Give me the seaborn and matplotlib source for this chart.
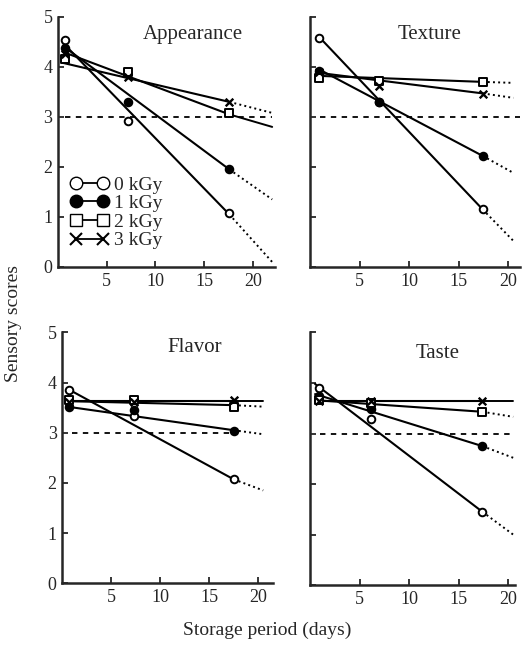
'''
Sensory scores vs storage period, four attributes, irradiation dose as series
'''
import pandas as pd
import seaborn as sns
import matplotlib.pyplot as plt
from matplotlib.lines import Line2D

sns.set_style("ticks")
plt.rcParams['font.family'] = ['Liberation Serif', 'DejaVu Serif']

# %% Data
panels = ["Appearance", "Texture", "Flavor", "Taste"]
doses = ["0 kGy", "1 kGy", "2 kGy", "3 kGy"]

# sampling days (points)
app_days = [0.7, 7.2, 17.6]
tex_days = [0.9, 6.9, 17.4]
fla_days = [0.7, 7.3, 17.5]
tas_days = [0.9, 6.1, 17.4]

# measured scores, one list per dose (0, 1, 2, 3 kGy)
app_scores = [[4.54, 2.92, 1.08], [4.38, 3.30, 1.95], [4.16, 3.90, 3.08], [4.25, 3.80, 3.30]]
tex_scores = [[4.58, 3.30, 1.15], [3.92, 3.30, 2.22], [3.78, 3.72, 3.70], [3.90, 3.62, 3.46]]
fla_scores = [[3.86, 3.33, 2.07], [3.52, 3.45, 3.03], [3.66, 3.66, 3.52], [3.62, 3.62, 3.66]]
tas_scores = [[3.91, 3.28, 1.44], [3.74, 3.48, 2.75], [3.66, 3.60, 3.43], [3.64, 3.64, 3.65]]

# regression lines: x at start, end of solid part, end of dotted part
app_fit_x = [0.5, 17.6, 22.0]
tex_fit_x = [0.9, 17.4, 20.5]
fla_fit_x = [0.5, 17.5, 20.5]
tas_fit_x = [0.5, 17.4, 20.5]
# regression line values at those x, one list per dose
app_fit = [[4.48, 1.05, 0.10], [4.42, 1.95, 1.35], [4.30, 3.05, 2.80], [4.08, 3.30, 3.08]]
tex_fit = [[4.60, 1.15, 0.52], [3.95, 2.22, 1.88], [3.82, 3.70, 3.68], [3.88, 3.47, 3.38]]
fla_fit = [[3.88, 2.07, 1.85], [3.52, 3.05, 2.97], [3.63, 3.55, 3.52], [3.63, 3.63, 3.63]]
tas_fit = [[3.98, 1.45, 1.00], [3.78, 2.75, 2.52], [3.66, 3.43, 3.33], [3.65, 3.65, 3.65]]

# acceptability limit (dashed) and its x range per panel
limit = 3.0
limit_x = [[0.7, 22.0], [1.0, 21.2], [1.0, 17.5], [1.0, 20.7]]
xmax = [22.3, 21.2, 21.5, 20.7]

# %% Long tables
pts, fits = [], []
for p, d, s, fx, f in zip(panels,
                          [app_days, tex_days, fla_days, tas_days],
                          [app_scores, tex_scores, fla_scores, tas_scores],
                          [app_fit_x, tex_fit_x, fla_fit_x, tas_fit_x],
                          [app_fit, tex_fit, fla_fit, tas_fit]):
    for i, dose in enumerate(doses):
        for x, y in zip(d, s[i]):
            pts.append((p, dose, x, y))
        for j, (x, y) in enumerate(zip(fx, f[i])):
            fits.append((p, dose, x, y, j))
df_pts = pd.DataFrame(pts, columns=["panel", "dose", "day", "score"])
df_fit = pd.DataFrame(fits, columns=["panel", "dose", "day", "score", "k"])

# lines whose extension is drawn solid in the original
solid_ext = {("Appearance", "2 kGy"), ("Flavor", "3 kGy"), ("Taste", "3 kGy")}

mk = {"0 kGy": dict(marker='o', facecolor='white', edgecolor='black'),
      "1 kGy": dict(marker='o', facecolor='black', edgecolor='black'),
      "2 kGy": dict(marker='s', facecolor='white', edgecolor='black'),
      "3 kGy": dict(marker='x', color='black')}

# %% Figure
fig = plt.figure(figsize=(5.23, 6.48), dpi=100)
rects = [[0.111, 0.588, 0.415, 0.386],
         [0.593, 0.588, 0.402, 0.386],
         [0.119, 0.100, 0.403, 0.387],
         [0.593, 0.097, 0.392, 0.390]]
title_pos = [(0.62, 0.93), (0.57, 0.93), (0.63, 0.94), (0.62, 0.915)]

for n, p in enumerate(panels):
    ax = fig.add_axes(rects[n])
    sub_fit = df_fit[df_fit.panel == p]
    sub_pts = df_pts[df_pts.panel == p]
    for dose in doses:
        line = sub_fit[sub_fit.dose == dose]
        sns.lineplot(ax=ax, data=line[line.k <= 1], x="day", y="score",
                     color='black', lw=1.5, sort=False)
        ext_ls = '-' if (p, dose) in solid_ext else ':'
        sns.lineplot(ax=ax, data=line[line.k >= 1], x="day", y="score",
                     color='black', lw=1.4, ls=ext_ls, sort=False)
    sns.lineplot(ax=ax, x=limit_x[n], y=[limit, limit], color='black',
                 lw=1.3, dashes=False, ls=(0, (3, 3)))
    for dose in doses:
        d = sub_pts[sub_pts.dose == dose]
        lw = 1.7 if dose == "3 kGy" else 1.4
        sns.scatterplot(ax=ax, data=d, x="day", y="score", s=30,
                        linewidth=lw, zorder=5, **mk[dose])

    ax.set_xlim(0, xmax[n])
    ax.set_ylim(0, 5)
    ax.set_xticks([5, 10, 15, 20])
    ax.set_yticks([0, 1, 2, 3, 4, 5])
    ax.tick_params(direction='in', length=4, width=1.3, labelsize=13, pad=4)
    if n in (1, 3):
        ax.set_yticklabels([])
    ax.set_xlabel("")
    ax.set_ylabel("")
    sns.despine(ax=ax)
    for sp in ['left', 'bottom']:
        ax.spines[sp].set_linewidth(1.8)
    ax.text(*title_pos[n], p, transform=ax.transAxes, ha='center', va='center', fontsize=15)

    if n == 0:
        handles = [Line2D([], [], color='black', lw=1.3, marker='o', mfc='white', mec='black', ms=9),
                   Line2D([], [], color='black', lw=1.3, marker='o', mfc='black', mec='black', ms=9),
                   Line2D([], [], color='black', lw=1.3, marker='s', mfc='white', mec='black', ms=9),
                   Line2D([], [], color='black', lw=1.3, marker='x', mec='black', ms=9, mew=1.5)]
        ax.legend(handles, doses, loc='upper left', bbox_to_anchor=(0.0, 0.41),
                  frameon=False, numpoints=2, handlelength=2.0, handletextpad=0.3,
                  labelspacing=0.05, borderaxespad=0.2, fontsize=14)

fig.text(0.025, 0.50, "Sensory scores", rotation=90, ha='center', va='center', fontsize=14)
fig.text(0.51, 0.027, "Storage period (days)", ha='center', va='center', fontsize=14)

fig.savefig("out.png", dpi=100)
